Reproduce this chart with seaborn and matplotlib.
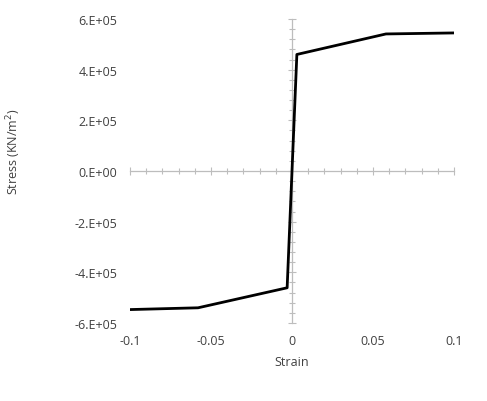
import matplotlib

matplotlib.use('Agg')
import matplotlib.pyplot as plt
import numpy as np
import pandas as pd
import seaborn as sns
from matplotlib.ticker import MultipleLocator

# stress-strain curve
strain = [-0.1, -0.058, -0.003, 0.0, 0.003, 0.058, 0.1]
stress = [-5.47e5, -5.40e5, -4.61e5, 0.0, 4.60e5, 5.41e5, 5.45e5]
x_ticks = [-0.1, -0.05, 0, 0.05, 0.1]
x_tick_labels = ['-0.1', '-0.05', '0', '0.05', '0.1']
y_ticks = [-6e5, -4e5, -2e5, 0, 2e5, 4e5, 6e5]
y_tick_labels = ['-6.E+05', '-4.E+05', '-2.E+05', '0.E+00', '2.E+05', '4.E+05', '6.E+05']

df = pd.DataFrame({'Strain': strain, 'Stress': stress})

sns.set_theme(style='white')
plt.rcParams['font.family'] = ['Open Sans', 'DejaVu Sans']

fig = plt.figure(figsize=(4.87, 4.02), dpi=100)
rect = [130 / 487, 1 - 324 / 402, 324 / 487, 304 / 402]

# crossing axes through the origin (drawn underneath)
cross = fig.add_axes(rect)
cross.set_xlim(-0.1, 0.1)
cross.set_ylim(-6e5, 6e5)
cross.patch.set_visible(False)
for side in ['top', 'right']:
    cross.spines[side].set_visible(False)
for side in ['left', 'bottom']:
    cross.spines[side].set_visible(True)
    cross.spines[side].set_position(('data', 0))
    cross.spines[side].set_color('#bdbdbd')
    cross.spines[side].set_linewidth(0.9)
cross.xaxis.set_major_locator(MultipleLocator(0.05))
cross.xaxis.set_minor_locator(MultipleLocator(0.01))
cross.yaxis.set_major_locator(MultipleLocator(2e5))
cross.yaxis.set_minor_locator(MultipleLocator(4e4))
cross.tick_params(which='both', direction='inout', colors='#bdbdbd', width=0.8,
                  bottom=True, left=True, labelbottom=False, labelleft=False)
cross.tick_params(which='major', length=6)
cross.tick_params(which='minor', length=5)

ax = fig.add_axes(rect)
ax.patch.set_visible(False)
sns.lineplot(data=df, x='Strain', y='Stress', ax=ax, color='black', linewidth=2.0,
             sort=False, estimator=None)

ax.set_xlim(-0.1, 0.1)
ax.set_ylim(-6e5, 6e5)
ax.set_xticks(x_ticks)
ax.set_xticklabels(x_tick_labels)
ax.set_yticks(y_ticks)
ax.set_yticklabels(y_tick_labels)
ax.tick_params(axis='both', length=0, labelsize=9, colors='#404040')
ax.tick_params(axis='x', pad=8)
ax.tick_params(axis='y', pad=9)
for s in ax.spines.values():
    s.set_visible(False)
ax.set_xlabel('')
ax.set_ylabel('')

fig.text(292 / 487, 1 - 363 / 402, 'Strain', ha='center', va='center',
         fontsize=9, color='#404040')
fig.text(14 / 487, 1 - 152 / 402, 'Stress (KN/m$^2$)', ha='center', va='center',
         rotation=90, fontsize=9, color='#404040')

fig.savefig('out.png', dpi=100, facecolor='white')
